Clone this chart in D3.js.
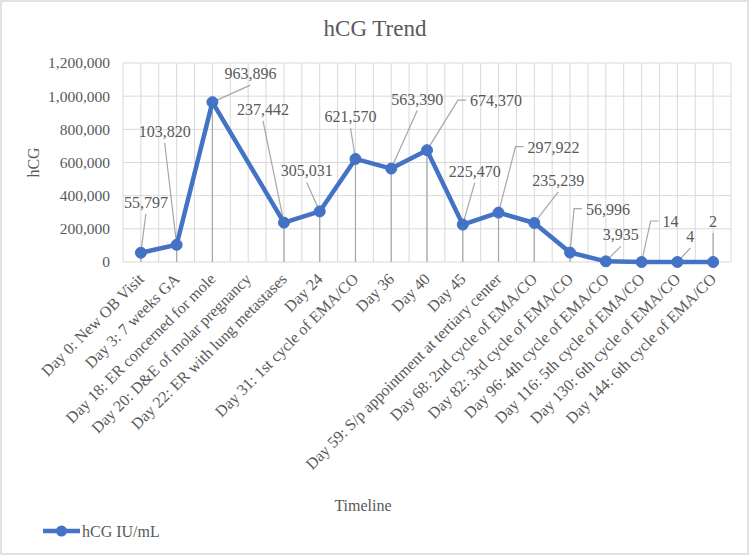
<!DOCTYPE html>
<html>
<head>
<meta charset="utf-8">
<script src="https://cdn.jsdelivr.net/npm/d3@7"></script>
<style>
  body { margin: 0; background: #fff; }
  text { font-family: "Liberation Serif", "Times New Roman", serif; fill: #595959; }
</style>
</head>
<body>
<div id="chart"></div>
<script>
var svgWidth = 750;
var svgHeight = 556;

var margin = { top: 63, right: 19, bottom: 294, left: 123 };
var width = svgWidth - margin.left - margin.right;
var height = svgHeight - margin.top - margin.bottom;

// data
var categories = [
  "Day 0: New OB Visit",
  "Day 3: 7 weeks GA",
  "Day 18: ER concerned for mole",
  "Day 20: D&E of molar pregnancy",
  "Day 22: ER with lung metastases",
  "Day 24",
  "Day 31: 1st cycle of EMA/CO",
  "Day 36",
  "Day 40",
  "Day 45",
  "Day 59: S/p appointment at tertiary center",
  "Day 68: 2nd cycle of EMA/CO",
  "Day 82: 3rd cycle of EMA/CO",
  "Day 96: 4th cycle of EMA/CO",
  "Day 116: 5th cycle of EMA/CO",
  "Day 130: 6th cycle of EMA/CO",
  "Day 144: 6th cycle of EMA/CO"
];
var hcgValues = [55797, 103820, 963896, null, 237442, 305031, 621570, 563390,
  674370, 225470, 297922, 235239, 56996, 3935, 14, 4, 2];
var yTicks = [0, 200000, 400000, 600000, 800000, 1000000, 1200000];
var seriesName = "hCG IU/mL";

// where each data label sits relative to its point: [dx, dy, leader kind]
var labelLayout = [
  [5, -45, "b"], [-12, -108, "b"], [38, -23, "b"], null, [-21, -108, "b"],
  [-13, -35, "b"], [-5, -37, "b"], [26, -64, "b"], [69, -44, "l"],
  [12, -48, "b"], [55, -60, "l"], [24, -37, "b"], [38, -38, "l"],
  [15, -21, "b"], [29, -35, "l"], [13, -20, "b"], [0, -35, "b"]
];

var lineColor = "#4472c4";
var gridColor = "#d9d9d9";
var leaderColor = "#a6a6a6";
var serif = "'Liberation Serif', 'Times New Roman', serif";

var svg = d3.select("#chart")
  .append("svg")
  .attr("width", svgWidth)
  .attr("height", svgHeight);

svg.append("rect")
  .attr("x", 1).attr("y", 1)
  .attr("width", svgWidth - 3).attr("height", svgHeight - 3)
  .attr("fill", "#fff")
  .attr("stroke", gridColor)
  .attr("stroke-width", 1.5);

var chartGroup = svg.append("g")
  .attr("transform", `translate(${margin.left}, ${margin.top})`);

var xScale = d3.scaleBand()
  .domain(categories)
  .range([0, width])
  .padding(0);

var yScale = d3.scaleLinear()
  .domain([0, 1200000])
  .range([height, 0]);

var bw = xScale.bandwidth();

// horizontal gridlines
chartGroup.selectAll(".hgrid")
  .data(yTicks)
  .enter()
  .append("line")
  .attr("x1", 0).attr("x2", width)
  .attr("y1", d => yScale(d)).attr("y2", d => yScale(d))
  .attr("stroke", gridColor)
  .attr("stroke-width", 1);

// vertical gridlines, at band edges and centres
var vgrid = [];
categories.forEach(function(c) {
  vgrid.push(xScale(c));
  vgrid.push(xScale(c) + bw / 2);
});
vgrid.push(width);

chartGroup.selectAll(".vgrid")
  .data(vgrid)
  .enter()
  .append("line")
  .attr("x1", d => d).attr("x2", d => d)
  .attr("y1", 0).attr("y2", height)
  .attr("stroke", gridColor)
  .attr("stroke-width", 1);

// y axis
var leftAxis = d3.axisLeft(yScale)
  .tickValues(yTicks)
  .tickFormat(d3.format(","))
  .tickSize(0)
  .tickPadding(13);

chartGroup.append("g")
  .call(leftAxis)
  .attr("font-family", serif)
  .attr("font-size", 15.5)
  .call(g => g.select(".domain").remove())
  .selectAll("text")
  .attr("fill", "#595959");

// x axis
var bottomAxis = d3.axisBottom(xScale).tickSize(0);

chartGroup.append("g")
  .attr("transform", `translate(0, ${height})`)
  .call(bottomAxis)
  .attr("font-family", serif)
  .attr("font-size", 16)
  .call(g => g.select(".domain").remove())
  .selectAll("text")
  .attr("x", 0).attr("y", 0).attr("dy", 0)
  .attr("text-anchor", "end")
  .attr("transform", "translate(4, 18) rotate(-45)")
  .attr("fill", "#595959");

var points = [];
hcgValues.forEach(function(v, i) {
  if (v === null) return;
  points.push({
    i: i,
    value: v,
    x: xScale(categories[i]) + bw / 2,
    y: yScale(v)
  });
});

// drop lines
chartGroup.selectAll(".drop")
  .data(points)
  .enter()
  .append("line")
  .attr("x1", d => d.x).attr("x2", d => d.x)
  .attr("y1", d => d.y).attr("y2", height)
  .attr("stroke", leaderColor)
  .attr("stroke-width", 1.2);

// data labels
var fmt = d3.format(",");
var labels = chartGroup.selectAll(".dlabel")
  .data(points)
  .enter()
  .append("text")
  .attr("class", "dlabel")
  .attr("x", d => d.x + labelLayout[d.i][0])
  .attr("y", d => d.y + labelLayout[d.i][1])
  .attr("text-anchor", "middle")
  .style("font-size", "16px")
  .text(d => fmt(d.value));

// leader lines
labels.each(function(d) {
  var lay = labelLayout[d.i];
  var lx = d.x + lay[0];
  var ly = d.y + lay[1];
  var w = this.getComputedTextLength();
  var pts;
  if (lay[2] === "l") {
    var left = lx - w / 2;
    pts = [[left - 4, ly - 6], [left - 12, ly - 6], [d.x, d.y]];
  } else {
    pts = [[lx, ly + 6], [d.x, d.y]];
  }
  chartGroup.append("path")
    .attr("d", d3.line()(pts))
    .attr("fill", "none")
    .attr("stroke", leaderColor)
    .attr("stroke-width", 1.2);
});

// series line, skipping the empty day
var line = d3.line()
  .x(d => d.x)
  .y(d => d.y);

chartGroup.append("path")
  .datum(points)
  .attr("d", line)
  .attr("fill", "none")
  .attr("stroke", lineColor)
  .attr("stroke-width", 4.5)
  .attr("stroke-linejoin", "round");

chartGroup.selectAll(".marker")
  .data(points)
  .enter()
  .append("circle")
  .attr("cx", d => d.x)
  .attr("cy", d => d.y)
  .attr("r", 5.5)
  .attr("fill", lineColor)
  .attr("stroke", lineColor);

labels.raise();

// titles
svg.append("text")
  .attr("x", svgWidth / 2)
  .attr("y", 36)
  .attr("text-anchor", "middle")
  .style("font-size", "23px")
  .text("hCG Trend");

svg.append("text")
  .attr("transform", `translate(39, ${margin.top + height / 2}) rotate(-90)`)
  .attr("text-anchor", "middle")
  .style("font-size", "16px")
  .text("hCG");

svg.append("text")
  .attr("x", 363)
  .attr("y", 511)
  .attr("text-anchor", "middle")
  .style("font-size", "16px")
  .text("Timeline");

// legend
var legend = svg.append("g")
  .attr("transform", "translate(43, 531)");

legend.append("line")
  .attr("x1", 0).attr("x2", 37)
  .attr("y1", 0).attr("y2", 0)
  .attr("stroke", lineColor)
  .attr("stroke-width", 4.5);

legend.append("circle")
  .attr("cx", 18.5).attr("cy", 0)
  .attr("r", 5.5)
  .attr("fill", lineColor);

legend.append("text")
  .attr("x", 39)
  .attr("y", 5.5)
  .style("font-size", "16px")
  .text(seriesName);
</script>
</body>
</html>
